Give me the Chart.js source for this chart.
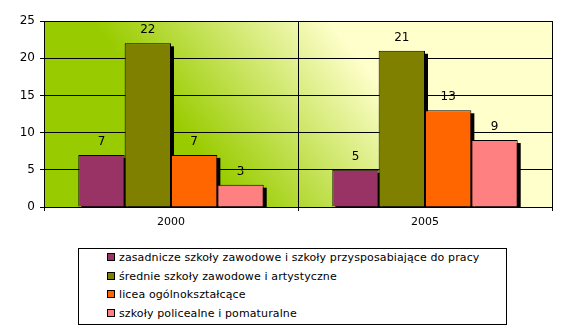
<!DOCTYPE html>
<html>
<head>
<meta charset="utf-8">
<script src="https://cdn.jsdelivr.net/npm/chart.js@4.4.0/dist/chart.umd.min.js"></script>
<style>
  html, body { margin: 0; padding: 0; background: #ffffff; }
  #wrap { position: relative; width: 576px; height: 334px; }
  #chartBox { position: absolute; left: 0; top: 0; width: 576px; height: 240px; }
  #legend { position: absolute; left: 78px; top: 248px; width: 429px; height: 77px;
            border: 1px solid #000; box-sizing: border-box; font-family: "DejaVu Sans", sans-serif;
            font-size: 11px; letter-spacing: 0.12px; color: #000; }
  .item { position: absolute; left: 28px; height: 14px; line-height: 14px; white-space: nowrap; }
  .mk { display: inline-block; width: 6px; height: 6px; border: 1px solid #000; margin-right: 4px; vertical-align: 0px; }
</style>
</head>
<body>
<div id="wrap">
  <div id="chartBox"><canvas id="c"></canvas></div>
  <div id="legend"></div>
</div>
<script>
const categories = ["2000", "2005"];
const seriesNames = [
  "zasadnicze szkoły zawodowe i szkoły przysposabiające do pracy",
  "średnie szkoły zawodowe i artystyczne",
  "licea ogólnokształcące",
  "szkoły policealne i pomaturalne"
];
const zasadnicze = [7, 5];
const srednie = [22, 21];
const licea = [7, 13];
const policealne = [3, 9];
const yTicks = [0, 5, 10, 15, 20, 25];
const colors = ["#993366", "#808000", "#FF6600", "#FF8080"];

const seriesValues = [zasadnicze, srednie, licea, policealne];

// legend
const legendEl = document.getElementById('legend');
seriesNames.forEach((n, i) => {
  const d = document.createElement('div');
  d.className = 'item';
  d.style.top = (2 + i * 18.7) + 'px';
  d.innerHTML = '<span class="mk" style="background:' + colors[i] + '"></span>' + n;
  legendEl.appendChild(d);
});

const bgPlugin = {
  id: 'bg',
  beforeDraw(chart) {
    const { ctx, chartArea: a } = chart;
    const g = ctx.createLinearGradient(243, 207, 387, 91);
    g.addColorStop(0, '#99CC00');
    g.addColorStop(1, '#FFFFCC');
    ctx.save();
    ctx.fillStyle = g;
    ctx.fillRect(a.left, a.top, a.right - a.left, a.bottom - a.top);
    ctx.restore();
  }
};

const shadowPlugin = {
  id: 'shadow',
  beforeDatasetsDraw(chart) {
    const { ctx, chartArea: a } = chart;
    ctx.save();
    ctx.beginPath();
    ctx.rect(a.left, a.top, a.right - a.left, a.bottom - a.top);
    ctx.clip();
    ctx.fillStyle = '#000';
    chart.data.datasets.forEach((ds, di) => {
      const meta = chart.getDatasetMeta(di);
      meta.data.forEach(bar => {
        const w = bar.width;
        ctx.fillRect(bar.x - w / 2 + 3, bar.y + 3, w, bar.base - bar.y);
      });
    });
    ctx.restore();
  }
};

const labelPlugin = {
  id: 'vlabels',
  afterDatasetsDraw(chart) {
    const { ctx } = chart;
    ctx.save();
    ctx.font = '12px "DejaVu Sans"';
    ctx.fillStyle = '#000';
    ctx.textAlign = 'center';
    ctx.textBaseline = 'middle';
    chart.data.datasets.forEach((ds, di) => {
      const meta = chart.getDatasetMeta(di);
      meta.data.forEach((bar, i) => {
        ctx.fillText(String(ds.data[i]), bar.x, bar.y - 13);
      });
    });
    ctx.restore();
  }
};

new Chart(document.getElementById('c'), {
  type: 'bar',
  data: {
    labels: categories,
    datasets: seriesValues.map((v, i) => ({
      label: seriesNames[i],
      data: v,
      backgroundColor: colors[i],
      borderColor: '#000',
      borderWidth: 1,
      categoryPercentage: 0.73,
      barPercentage: 1.0
    }))
  },
  options: {
    responsive: true,
    maintainAspectRatio: false,
    animation: false,
    layout: { padding: { left: 0, right: 24, top: 21, bottom: 0 } },
    plugins: { legend: { display: false }, tooltip: { enabled: false } },
    scales: {
      x: {
        grid: { color: '#000', lineWidth: 1, tickLength: 4, offset: true, drawOnChartArea: true },
        border: { color: '#000', width: 1 },
        ticks: { color: '#000', font: { family: 'DejaVu Sans', size: 11 }, padding: 5 },
        afterFit(s) { s.height = 33; }
      },
      y: {
        min: 0, max: 25,
        afterBuildTicks(s) { s.ticks = yTicks.map(v => ({ value: v })); },
        grid: { color: '#000', lineWidth: 1, tickLength: 4 },
        border: { color: '#000', width: 1 },
        ticks: { color: '#000', font: { family: 'DejaVu Sans', size: 12 }, padding: 5 },
        afterFit(s) { s.width = 44; }
      }
    }
  },
  plugins: [bgPlugin, shadowPlugin, labelPlugin]
});
</script>
</body>
</html>
